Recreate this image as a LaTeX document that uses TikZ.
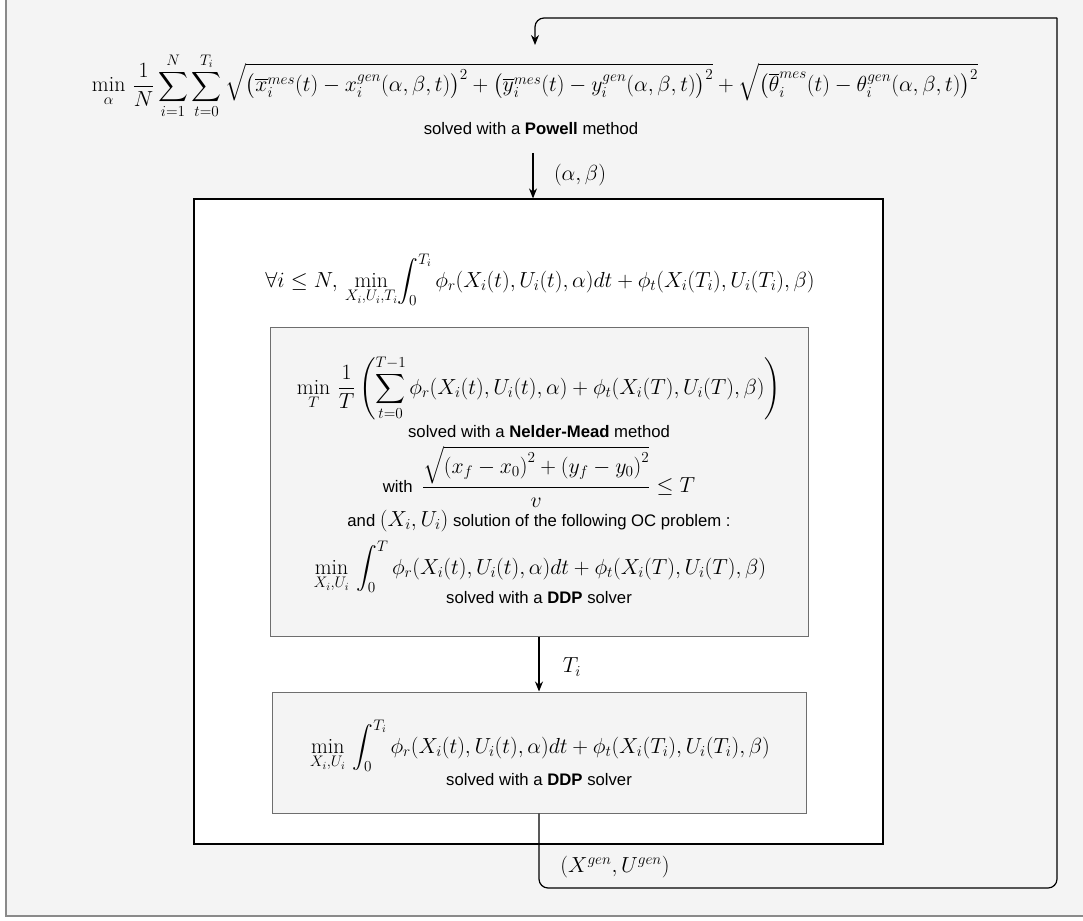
\RequirePackage{fix-cm}
\documentclass[tikz,border=0pt]{standalone}
\usepackage{amsmath}
\usepackage{fontspec}
\setsansfont{Liberation Sans}
\usetikzlibrary{arrows.meta}
\definecolor{bg}{HTML}{F4F4F4}
\definecolor{outerline}{HTML}{8A8A8A}
\definecolor{boxline}{HTML}{6E6E6E}
\newcommand{\mfs}{\fontsize{21.8}{26}\selectfont}
\tikzset{
  txt/.style={font=\fontsize{16.7}{20}\selectfont\sffamily, inner sep=0pt},
  mth/.style={font=\mfs, inner sep=0pt},
  graybox/.style={draw=boxline, fill=bg, line width=1pt},
  whitebox/.style={draw=black, fill=white, line width=1.2pt},
  arr/.style={-{Stealth[length=10pt,width=8pt]}, line width=1.2pt},
  loopline/.style={line width=1.2pt, rounded corners=9pt},
}
\begin{document}
\begin{tikzpicture}[x=1pt,y=-1pt]
\useasboundingbox (0,0) rectangle (1083,920);
% outer background
\fill[bg] (6,-10) rectangle (1095,916);
\draw[outerline, line width=2pt] (6,-10) -- (6,916) -- (1095,916);

% top objective
\node[mth, anchor=base] (obj) at (535,92) {$\displaystyle \min_{\alpha}\,\frac{1}{N}\sum_{i=1}^{N}\sum_{t=0}^{T_i}\sqrt{\bigl(\overline{x}_i^{mes}(t)-x_i^{gen}(\alpha,\beta,t)\bigr)^2+\bigl(\overline{y}_i^{mes}(t)-y_i^{gen}(\alpha,\beta,t)\bigr)^2}+\sqrt{\bigl(\overline{\theta}_i^{mes}(t)-\theta_i^{gen}(\alpha,\beta,t)\bigr)^2}$};
\node[txt] (powell) at (531,129) {solved with a \textbf{Powell} method};

% white box
\node[whitebox, minimum width=689pt, minimum height=645pt, inner sep=0pt] (wbox) at (538.5,521.5) {};
\node[mth, anchor=base] (forall) at (540,287) {$\displaystyle \forall i \leq N,\, \min_{X_i,U_i,T_i}\!\int_0^{T_i}\phi_r(X_i(t),U_i(t),\alpha)dt+\phi_t(X_i(T_i),U_i(T_i),\beta)$};

% gray box 1
\node[graybox, minimum width=538pt, minimum height=309pt, inner sep=0pt] (box1) at (539,481.5) {};
\node[mth, anchor=base] (minT) at (539,394) {$\displaystyle \min_{T}\,\frac{1}{T}\left(\sum_{t=0}^{T-1}\phi_r(X_i(t),U_i(t),\alpha)+\phi_t(X_i(T),U_i(T),\beta)\right)$};
\node[txt] (nm) at (539,432) {solved with a \textbf{Nelder-Mead} method};
\node[txt, anchor=base] (with) at (539,492.5) {with \ {\mfs$\displaystyle\frac{\sqrt{\left(x_f-x_0\right)^2+\left(y_f-y_0\right)^2}}{v}\leq T$}};
\node[txt] (andline) at (539,521) {and {\mfs$(X_i,U_i)$} solution of the following OC problem :};
\node[mth, anchor=base] (oc) at (540,574) {$\displaystyle \min_{X_i,U_i}\,\int_0^{T}\phi_r(X_i(t),U_i(t),\alpha)dt+\phi_t(X_i(T),U_i(T),\beta)$};
\node[txt] (ddp1) at (539,598) {solved with a \textbf{DDP} solver};

% gray box 2
\node[graybox, minimum width=534pt, minimum height=121pt, inner sep=0pt] (box2) at (539,752.5) {};
\node[mth, anchor=base] (final) at (540,753) {$\displaystyle \min_{X_i,U_i}\,\int_0^{T_i}\phi_r(X_i(t),U_i(t),\alpha)dt+\phi_t(X_i(T_i),U_i(T_i),\beta)$};
\node[txt] (ddp2) at (539,780) {solved with a \textbf{DDP} solver};

% connectors
\coordinate (a1) at (533,153);
\draw[arr] (a1) -- (wbox.north -| a1);
\node[mth] (ab) at (580,175) {$(\alpha,\beta)$};

\draw[arr] (box1.south) -- (box2.north);
\node[mth] (ti) at (572,667) {$T_i$};

\coordinate (c1) at (539,888);
\coordinate (c2) at (1057,888);
\coordinate (c3) at (1057,18);
\coordinate (c4) at (535,18);
\coordinate (tip) at (535,45);
\draw[loopline] (box2.south) -- (c1) -- (c2) -- (c3);
\draw[arr, rounded corners=9pt] (c3) -- (c4) -- (tip);
\node[mth] (xu) at (615,867) {$(X^{gen},U^{gen})$};
\end{tikzpicture}
\end{document}
